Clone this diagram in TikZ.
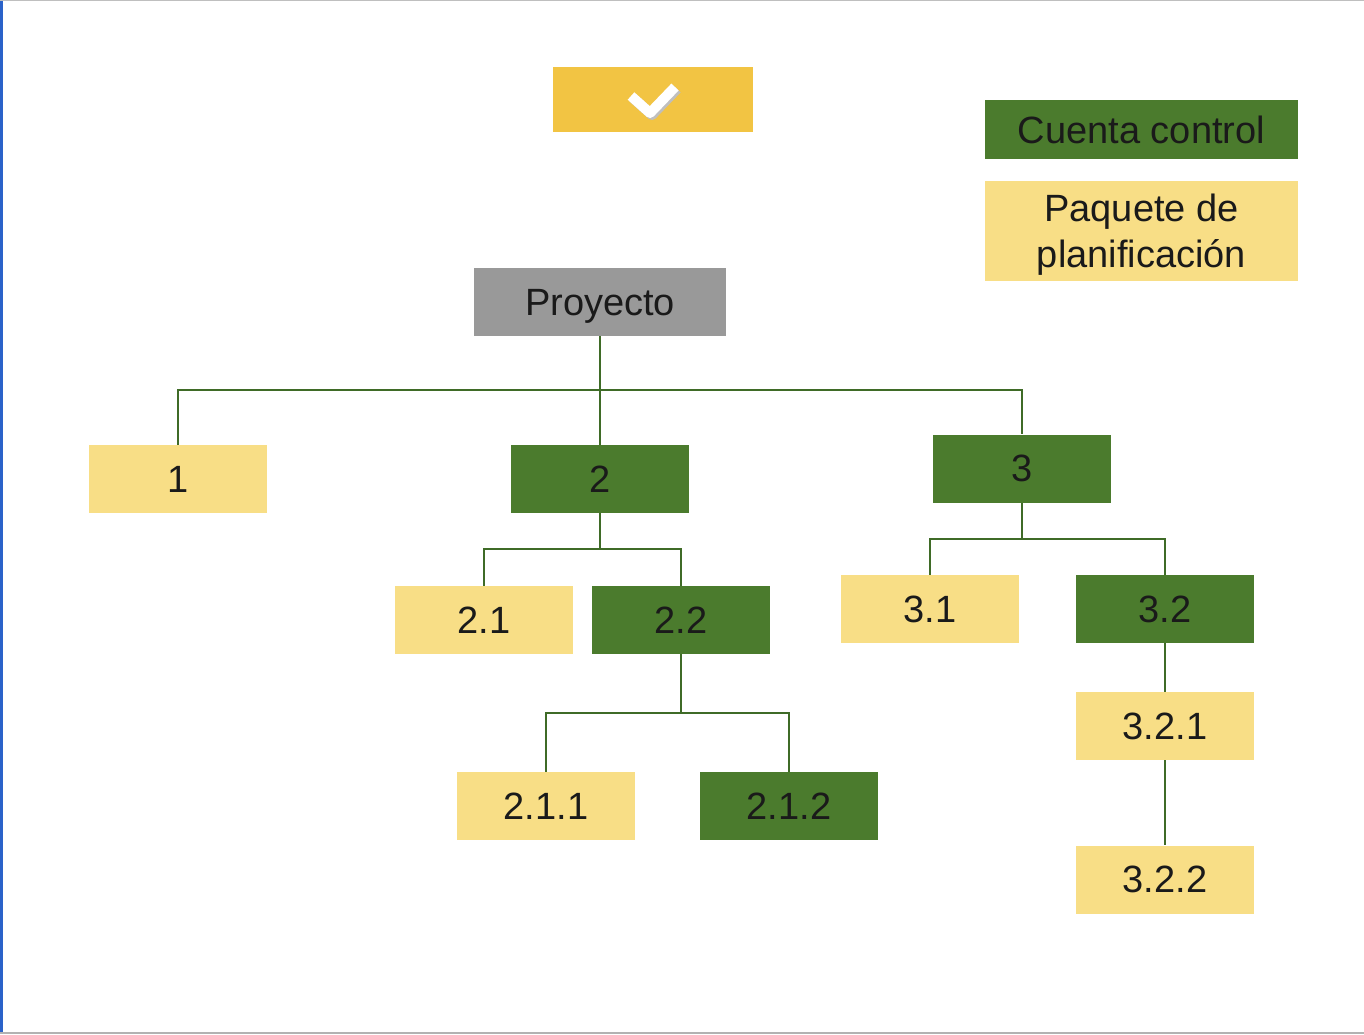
\documentclass[tikz,border=0pt]{standalone}
\usepackage{fontspec}
\setmainfont{Liberation Sans}
\definecolor{cgreen}{HTML}{4B7B2D}
\definecolor{cyellow}{HTML}{F8DE86}
\definecolor{cgold}{HTML}{F2C443}
\definecolor{cgray}{HTML}{999999}
\definecolor{cline}{HTML}{3F6B27}
\definecolor{ctext}{HTML}{1A1A1A}
\definecolor{cblue}{HTML}{2A62C9}
\begin{document}
\begin{tikzpicture}[x=1pt,y=-1pt,
  box/.style={inner sep=0pt, minimum width=178pt, minimum height=68pt, text=ctext,
    font=\fontsize{38}{44}\selectfont, text depth=0.1pt},
  green/.style={box, fill=cgreen},
  yel/.style={box, fill=cyellow},
  conn/.style={draw=cline, line width=2pt}]
\useasboundingbox (0,0) rectangle (1364,1034);
\fill[white] (0,0) rectangle (1364,1034);
\fill[cblue] (0,0) rectangle (2.5,1034);
\draw[gray!50, line width=1pt] (0,0.5) -- (1364,0.5);
\draw[gray!60, line width=1.5pt] (0,1033) -- (1364,1033);

% check box
\node[fill=cgold, inner sep=0pt, minimum width=200pt, minimum height=65pt] (chk) at (653,99.5) {};
\draw[black!25, line width=10pt, line join=round] (633,98) -- (652,115) -- (677,89);
\draw[white, line width=10pt, line join=round] (631,96) -- (650,113) -- (675,87);

% legend
\node[green, minimum width=313pt, minimum height=59pt] (leg1) at (1141.5,129.5) {Cuenta control};
\node[yel, minimum width=313pt, minimum height=100pt, align=center, font=\fontsize{38}{46}\selectfont] (leg2) at (1141.5,231) {Paquete de\\planificación};

% tree
\node[box, fill=cgray, minimum width=252pt] (p) at (600,302) {Proyecto};
\node[yel] (n1) at (178,479) {1};
\node[green] (n2) at (600,479) {2};
\node[green] (n3) at (1022,468.5) {3};
\node[yel] (n21) at (484,620) {2.1};
\node[green] (n22) at (681,620) {2.2};
\node[yel] (n31) at (930,609) {3.1};
\node[green] (n32) at (1165,609) {3.2};
\node[yel] (n321) at (1165,726) {3.2.1};
\node[yel] (n322) at (1165,879.5) {3.2.2};
\node[yel] (n211) at (546,806) {2.1.1};
\node[green] (n212) at (789,806) {2.1.2};

\coordinate (b0) at (600,390);
\draw[conn] (p.south) -- (b0);
\draw[conn] (n1.north) |- (b0) -| (n3.north);
\draw[conn] (b0) -- (n2.north);

\coordinate (b2) at (600,549);
\draw[conn] (n2.south) -- (b2);
\draw[conn] (n21.north) |- (b2) -| (n22.north);

\coordinate (b22) at (681,713);
\draw[conn] (n22.south) -- (b22);
\draw[conn] (n211.north) |- (b22) -| (n212.north);

\coordinate (b3) at (1022,539);
\draw[conn] (n3.south) -- (b3);
\draw[conn] (n31.north) |- (b3) -| (n32.north);

\draw[conn] (n32.south) -- (n321.north);
\draw[conn] (n321.south) -- (n322.north);
\end{tikzpicture}
\end{document}
